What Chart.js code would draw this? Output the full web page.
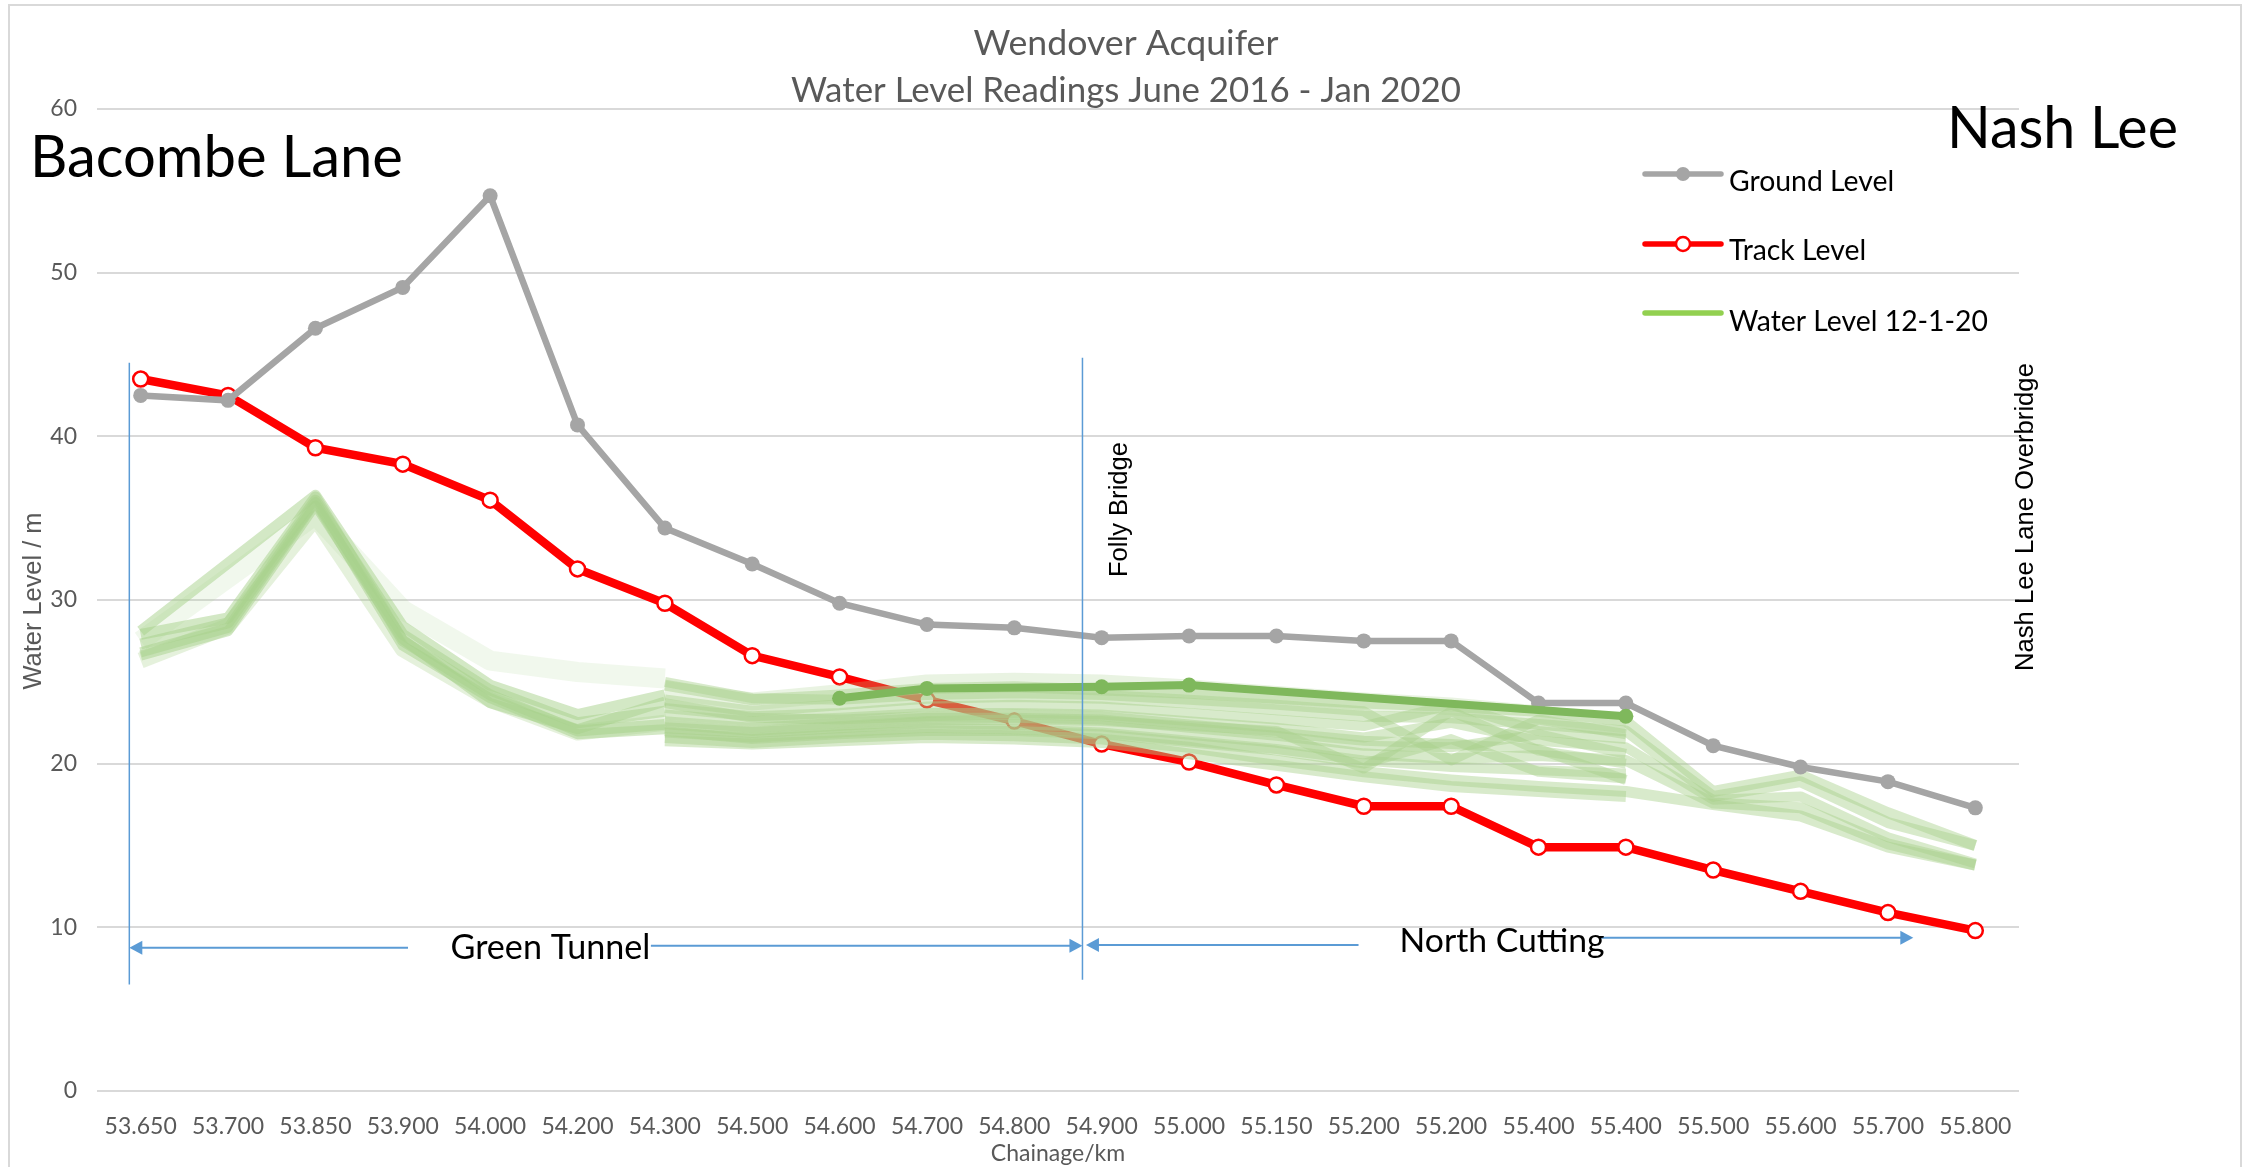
<!DOCTYPE html>
<html><head><meta charset="utf-8">
<script src="https://cdn.jsdelivr.net/npm/chart.js@4.4.1/dist/chart.umd.min.js"></script>
<style>html,body{margin:0;padding:0;background:#fff;overflow:hidden}canvas{display:block}</style>
</head><body>
<canvas id="c" width="2249" height="1167"></canvas>
<script>
const N = null;
const categories = ['53.650','53.700','53.850','53.900','54.000','54.200','54.300','54.500','54.600','54.700','54.800','54.900','55.000','55.150','55.200','55.200','55.400','55.400','55.500','55.600','55.700','55.800'];
const groundLevel = [42.5,42.2,46.6,49.1,54.7,40.7,34.4,32.2,29.8,28.5,28.3,27.7,27.8,27.8,27.5,27.5,23.7,23.7,21.1,19.8,18.9,17.3];
const trackLevel  = [43.5,42.5,39.3,38.3,36.1,31.9,29.8,26.6,25.3,23.9,22.6,21.2,20.1,18.7,17.4,17.4,14.9,14.9,13.5,12.2,10.9,9.8];
const waterLevel12Jan20 = [N,N,N,N,N,N,N,N,24.0,24.6,N,24.7,24.8,N,N,N,N,22.9,N,N,N,N];

// earlier water level readings (June 2016 - Jan 2020)
const reading01 = [27.9,28.9,36.3,27.5,24.2,22.0,22.4,N,N,N,N,N,N,N,N,N,N,N,N,N,N,N];
const reading02 = [27.3,28.6,36.1,27.9,24.5,22.5,23.2,N,N,N,N,N,N,N,N,N,N,N,N,N,N,N];
const reading03 = [26.8,28.3,36.0,27.2,24.0,21.8,22.1,N,N,N,N,N,N,N,N,N,N,N,N,N,N,N];
const reading04 = [28.1,N,36.4,28.4,24.8,23.0,24.2,N,N,N,N,N,N,N,N,N,N,N,N,N,N,N];
const reading05 = [26.6,28.1,35.8,27.6,23.7,22.1,23.8,N,N,N,N,N,N,N,N,N,N,N,N,N,N,N];
const reading06 = [27.5,N,35.2,29.4,26.3,25.6,25.2,N,N,N,N,N,N,N,N,N,N,N,N,N,N,N];
const reading07 = [26.3,28.4,35.0,27.0,23.9,21.9,22.5,N,N,N,N,N,N,N,N,N,N,N,N,N,N,N];
const reading08 = [N,N,N,N,N,N,24.8,23.9,24.2,24.6,24.7,24.5,24.3,24.0,23.7,23.5,23.2,22.6,18.3,19.3,17.0,15.0];
const reading09 = [N,N,N,N,N,N,23.9,23.2,23.6,24.0,24.1,24.0,23.7,23.3,22.9,22.8,22.4,22.0,18.0,18.9,16.4,15.0];
const reading10 = [N,N,N,N,N,N,23.4,22.9,23.1,23.5,23.6,23.5,23.1,22.7,22.3,23.6,22.0,21.5,N,N,N,N];
const reading11 = [N,N,N,N,N,N,23.0,22.6,22.8,23.1,23.1,23.0,22.6,22.2,21.6,22.5,21.4,21.0,17.8,18.0,15.5,13.9];
const reading12 = [N,N,N,N,N,N,22.6,22.2,22.5,22.8,22.8,22.7,22.2,21.7,21.1,21.0,21.8,20.6,N,N,N,N];
const reading13 = [N,N,N,N,N,N,22.2,21.9,22.2,22.5,22.4,22.3,21.8,21.3,20.6,20.3,20.5,20.2,17.6,17.3,15.1,13.8];
const reading14 = [N,N,N,N,N,N,21.9,21.6,21.9,22.2,22.1,21.9,21.4,20.9,20.2,19.8,19.6,19.4,N,N,N,N];
const reading15 = [N,N,N,N,N,N,21.6,21.3,21.6,21.8,21.7,21.5,21.0,20.2,19.5,19.0,18.6,18.3,17.5,16.8,14.9,13.8];
const reading16 = [N,N,N,N,N,N,25.0,24.0,23.9,24.2,24.3,24.2,23.9,23.6,23.2,20.2,22.7,21.8,N,N,N,N];
const reading17 = [N,N,N,N,N,N,22.4,22.0,22.3,22.6,22.7,22.6,22.3,22.0,19.7,23.2,20.8,20.0,N,N,N,N];
const reading18 = [N,N,N,N,N,N,23.7,22.8,22.7,22.9,23.0,22.9,22.4,21.9,21.4,21.2,20.9,19.0,N,N,N,N];
const reading19 = [N,N,N,N,N,N,21.4,21.2,21.4,21.6,21.5,21.3,20.6,19.9,19.2,18.6,18.3,18.0,N,N,N,N];
const reading20 = [N,N,N,N,N,N,24.5,23.8,24.3,24.9,25.0,24.9,24.6,24.2,23.8,23.5,23.0,22.4,N,N,N,N];
const reading21 = [N,N,N,N,N,N,22.0,21.5,21.8,22.0,22.0,21.8,21.3,20.8,20.0,21.5,19.5,19.1,N,N,N,N];
const earlierReadings = [reading01,reading02,reading03,reading04,reading05,reading06,reading07,reading08,reading09,reading10,reading11,reading12,reading13,reading14,reading15,reading16,reading17,reading18,reading19,reading20,reading21];
const yTicks = [0,10,20,30,40,50,60];

// styles for the earlier readings (width, opacity)
const readingWidths = [11,11,10,11,10,20,16, 11,11,10,10,10,11,10,11,10,10,10,11,18,10];
const readingAlpha  = [.5,.5,.5,.5,.5,.16,.3, .45,.45,.45,.45,.45,.45,.45,.45,.45,.45,.45,.45,.25,.45];

const FONT = 'Lato, "Open Sans", sans-serif';
const ARIAL = '"Liberation Sans", Arial, sans-serif';

const datasets = [];
datasets.push({label:'Water Level 12-1-20', data: waterLevel12Jan20, borderColor:'#7fb85c', backgroundColor:'#7fb85c', borderWidth:8, pointRadius:7.5, pointBorderWidth:0, pointBackgroundColor:'#7fb85c', order:0});
datasets.push({label:'Ground Level', data: groundLevel, borderColor:'#a5a5a5', backgroundColor:'#a5a5a5', borderWidth:6.5, pointRadius:7.5, pointBorderWidth:0, pointBackgroundColor:'#a5a5a5', order:1});
earlierReadings.forEach((arr,i)=>{
  datasets.push({label:'reading'+(i+1), data: arr, borderColor:`rgba(168,209,140,${readingAlpha[i]})`, borderWidth: readingWidths[i], pointRadius:0, borderJoinStyle:'round', order:2+i});
});
datasets.push({label:'Track Level', data: trackLevel, borderColor:'#ff0000', backgroundColor:'#ffffff', borderWidth:8.5, pointRadius:7.5, pointBorderWidth:2.5, pointBorderColor:'#ff0000', pointBackgroundColor:'#ffffff', order:100});

function fitSize(ctx, text, width, family, weight){
  ctx.font = (weight||'') + ' 100px ' + family;
  return 100 * width / ctx.measureText(text).width;
}
function drawFitText(ctx, text, x, y, width, family, color, align){
  const s = fitSize(ctx, text, width, family);
  ctx.font = s.toFixed(2) + 'px ' + family;
  ctx.fillStyle = color; ctx.textAlign = align || 'left'; ctx.textBaseline = 'alphabetic';
  ctx.fillText(text, x, y);
}

const decor = {
  id: 'decor',
  afterDraw(chart){
    const ctx = chart.ctx, xs = chart.scales.x, ys = chart.scales.y;
    const X = v => xs.getPixelForValue(v), Y = v => ys.getPixelForValue(v);
    ctx.save();
    // outer frame
    ctx.strokeStyle = '#d9d9d9'; ctx.lineWidth = 2;
    ctx.beginPath(); ctx.moveTo(9, 1167); ctx.lineTo(9, 5); ctx.lineTo(2241, 5); ctx.lineTo(2241, 1167); ctx.stroke();

    // titles
    drawFitText(ctx, 'Wendover Acquifer', 1126, 55, 305, FONT, '#595959', 'center');
    drawFitText(ctx, 'Water Level Readings June 2016 - Jan 2020', 1126, 102, 670, FONT, '#595959', 'center');
    // big labels
    drawFitText(ctx, 'Bacombe Lane', 30, 177, 373, FONT, '#000000', 'left');
    drawFitText(ctx, 'Nash Lee', 1947, 148, 231, FONT, '#000000', 'left');

    // y axis title
    ctx.save();
    ctx.translate(41, 601); ctx.rotate(-Math.PI/2);
    drawFitText(ctx, 'Water Level / m', 0, 0, 177, ARIAL, '#595959', 'center');
    ctx.restore();

    // legend
    const legendItems = [
      {label:'Ground Level', color:'#a5a5a5', marker:'filled', y:174, base:191},
      {label:'Track Level', color:'#ff0000', marker:'hollow', y:244, base:260},
      {label:'Water Level 12-1-20', color:'#92d050', marker:null, y:313, base:331}
    ];
    const ls = fitSize(ctx, 'Water Level 12-1-20', 259, FONT);
    legendItems.forEach(it=>{
      ctx.strokeStyle = it.color; ctx.lineWidth = 5.5; ctx.lineCap = 'round';
      ctx.beginPath(); ctx.moveTo(1645, it.y); ctx.lineTo(1721, it.y); ctx.stroke();
      if (it.marker){
        ctx.beginPath(); ctx.arc(1683, it.y, 7, 0, Math.PI*2);
        if (it.marker === 'filled'){ ctx.fillStyle = it.color; ctx.fill(); }
        else { ctx.fillStyle = '#fff'; ctx.fill(); ctx.lineWidth = 2.5; ctx.strokeStyle = it.color; ctx.stroke(); }
      }
      ctx.font = ls.toFixed(2) + 'px ' + FONT; ctx.fillStyle = '#000'; ctx.textAlign = 'left'; ctx.textBaseline = 'alphabetic';
      ctx.fillText(it.label, 1729, it.base);
    });
    ctx.lineCap = 'butt';

    // vertical marker lines
    ctx.strokeStyle = '#5b9bd5'; ctx.lineWidth = 1.5;
    [[-0.13, 44.5, 6.5],[10.78, 44.8, 6.8]].forEach(([i,a,b])=>{
      ctx.beginPath(); ctx.moveTo(X(i), Y(a)); ctx.lineTo(X(i), Y(b)); ctx.stroke();
    });

    // arrows
    function seg(i1, v1, i2, v2, headStart, headEnd){
      const x1 = X(i1), y1 = Y(v1), x2 = X(i2), y2 = Y(v2);
      ctx.strokeStyle = '#5b9bd5'; ctx.lineWidth = 2;
      ctx.beginPath(); ctx.moveTo(x1 + (headStart?10:0), y1); ctx.lineTo(x2 - (headEnd?10:0), y2); ctx.stroke();
      ctx.fillStyle = '#5b9bd5';
      if (headStart){ ctx.beginPath(); ctx.moveTo(x1, y1); ctx.lineTo(x1+13, y1-7); ctx.lineTo(x1+13, y1+7); ctx.closePath(); ctx.fill(); }
      if (headEnd){ ctx.beginPath(); ctx.moveTo(x2, y2); ctx.lineTo(x2-13, y2-7); ctx.lineTo(x2-13, y2+7); ctx.closePath(); ctx.fill(); }
    }
    seg(-0.13, 8.75, 3.06, 8.75, true, false);
    seg(5.84, 8.88, 10.78, 8.88, false, true);
    seg(10.82, 8.92, 13.94, 8.92, true, false);
    seg(16.7, 9.36, 20.29, 9.36, false, true);
    drawFitText(ctx, 'Green Tunnel', X(3.546), Y(8.06), 200, FONT, '#000', 'left');
    drawFitText(ctx, 'North Cutting', X(14.41), Y(8.49), 205, FONT, '#000', 'left');

    // rotated location labels
    ctx.save(); ctx.translate(1127, 577); ctx.rotate(-Math.PI/2);
    drawFitText(ctx, 'Folly Bridge', 0, 0, 135, ARIAL, '#000', 'left'); ctx.restore();
    ctx.save(); ctx.translate(2033, 671); ctx.rotate(-Math.PI/2);
    drawFitText(ctx, 'Nash Lee Lane Overbridge', 0, 0, 308, ARIAL, '#000', 'left'); ctx.restore();
    ctx.restore();
  }
};

new Chart(document.getElementById('c'), {
  type: 'line',
  data: { labels: categories, datasets },
  plugins: [decor],
  options: {
    responsive: false, animation: false, devicePixelRatio: 1, spanGaps: true,
    layout: { padding: { left: 10, right: 230, top: 109, bottom: 0 } },
    elements: { line: { tension: 0 } },
    plugins: { legend: { display: false }, title: { display: false }, tooltip: { enabled: false } },
    scales: {
      x: {
        offset: true,
        grid: { display: false, drawTicks: false },
        border: { display: false },
        ticks: { color: '#595959', font: { family: FONT, size: 23 }, padding: 22, maxRotation: 0, autoSkip: false },
        title: { display: true, text: 'Chainage/km', color: '#595959', font: { family: FONT, size: 23 }, padding: { top: 0, bottom: 0 } },
        afterFit(s){ s.height = 76; }
      },
      y: {
        min: 0, max: 60,
        afterBuildTicks(s){ s.ticks = yTicks.map(v => ({ value: v })); },
        ticks: { color: '#595959', font: { family: FONT, size: 23 }, padding: 20 },
        grid: { color: '#d9d9d9', lineWidth: 2, drawTicks: false },
        border: { display: false },
        afterFit(s){ s.width = 87; }
      }
    }
  }
});
</script>
</body></html>
